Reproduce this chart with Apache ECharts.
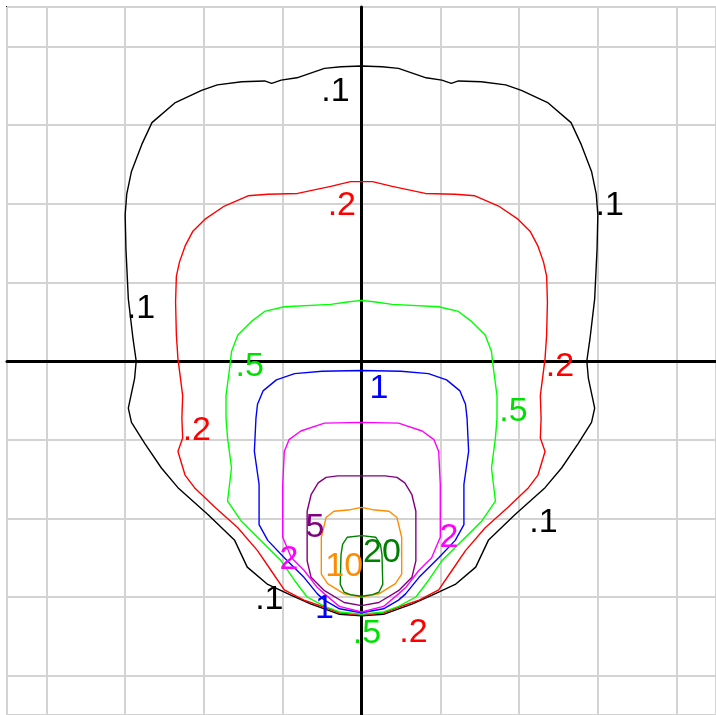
<!DOCTYPE html>
<html>
<head>
<meta charset="utf-8">
<script src="https://cdn.jsdelivr.net/npm/echarts@6/dist/echarts.min.js"></script>
<style>html,body{margin:0;padding:0;background:#fff}#c{width:716px;height:715px}</style>
</head>
<body>
<div id="c"></div>
<script>
// Contour levels (right halves, the plot is symmetric about x = 0)
const levels = ['.1', '.2', '.5', '1', '2', '5', '10', '20'];
const colors = ['#000000', '#ff0000', '#00ff00', '#0000ff', '#ff00ff', '#800080', '#ff8c00', '#008000'];
const labelColors = ['#000000', '#ff0000', '#00e000', '#0000ff', '#ff00ff', '#800080', '#ff8c00', '#008000'];

const c01 = [[0,3.75],[0.26,3.74],[0.47,3.72],[0.82,3.60],[1.02,3.57],[1.14,3.53],[1.23,3.56],[1.52,3.55],[1.83,3.51],[2.03,3.44],[2.37,3.28],[2.66,3.03],[2.79,2.75],[2.92,2.41],[2.98,2.12],[3.00,1.86],[2.99,1.42],[2.96,0.79],[2.90,0.28],[2.86,0.0],[2.88,-0.22],[2.96,-0.60],[2.92,-0.78],[2.75,-1.05],[2.54,-1.36],[2.33,-1.61],[1.95,-1.95],[1.61,-2.28],[1.45,-2.62],[1.19,-2.84],[0.89,-2.98],[0.64,-3.09],[0.47,-3.15],[0.28,-3.22],[0,-3.24]];
const c02 = [[0,2.28],[0.14,2.28],[0.39,2.22],[0.81,2.13],[1.19,2.12],[1.44,2.10],[1.74,1.97],[1.99,1.80],[2.14,1.65],[2.24,1.46],[2.31,1.26],[2.35,1.08],[2.36,0.75],[2.35,0.33],[2.33,0.03],[2.27,-0.44],[2.28,-0.73],[2.27,-0.98],[2.33,-1.15],[2.24,-1.45],[2.12,-1.61],[1.86,-1.86],[1.57,-2.12],[1.32,-2.41],[1.15,-2.66],[0.98,-2.91],[0.73,-3.04],[0.47,-3.13],[0.28,-3.20],[0,-3.23]];
const c05 = [[0,0.77],[0.18,0.75],[0.39,0.72],[0.98,0.69],[1.23,0.63],[1.40,0.50],[1.57,0.33],[1.65,0.12],[1.67,-0.06],[1.72,-0.44],[1.72,-0.73],[1.70,-0.98],[1.65,-1.36],[1.70,-1.78],[1.53,-2.03],[1.32,-2.24],[1.02,-2.54],[0.85,-2.79],[0.69,-3.00],[0.47,-3.12],[0.28,-3.19],[0,-3.22]];
const c1 = [[0,-0.12],[0.5,-0.13],[0.85,-0.16],[1.08,-0.24],[1.25,-0.38],[1.32,-0.55],[1.34,-0.73],[1.36,-1.15],[1.30,-1.57],[1.30,-2.08],[1.19,-2.28],[0.98,-2.50],[0.73,-2.75],[0.56,-2.96],[0.47,-3.04],[0.28,-3.15],[0,-3.20]];
const c2 = [[0,-0.78],[0.47,-0.79],[0.77,-0.89],[0.92,-1.00],[0.98,-1.15],[1.00,-1.57],[1.00,-2.24],[0.89,-2.50],[0.73,-2.66],[0.56,-2.88],[0.47,-2.96],[0.28,-3.12],[0,-3.19]];
const c5 = [[0,-1.46],[0.30,-1.46],[0.45,-1.48],[0.55,-1.55],[0.64,-1.70],[0.69,-1.91],[0.69,-2.54],[0.64,-2.75],[0.47,-2.92],[0.22,-3.07],[0,-3.11]];
const c10 = [[0,-1.86],[0.14,-1.89],[0.35,-1.91],[0.45,-1.99],[0.51,-2.24],[0.51,-2.71],[0.43,-2.83],[0.22,-2.96],[0,-3.00]];
const c20 = [[0,-2.22],[0.18,-2.24],[0.24,-2.33],[0.26,-2.46],[0.27,-2.84],[0.22,-2.94],[0.14,-2.97],[0,-2.99]];
const contours = [c01, c02, c05, c1, c2, c5, c10, c20];

// Contour labels: [x, y, text, levelIndex]
const labels = [
  [-0.33, 3.42, '.1', 0], [3.15, 1.97, '.1', 0], [-2.80, 0.66, '.1', 0], [2.31, -2.05, '.1', 0], [-1.17, -3.03, '.1', 0],
  [-0.25, 1.97, '.2', 1], [2.52, -0.07, '.2', 1], [-2.09, -0.89, '.2', 1], [0.66, -3.45, '.2', 1],
  [-1.42, -0.07, '.5', 2], [1.93, -0.64, '.5', 2], [0.07, -3.47, '.5', 2],
  [0.22, -0.35, '1', 3], [-0.47, -3.15, '1', 3],
  [-0.92, -2.52, '2', 4], [1.11, -2.24, '2', 4],
  [-0.59, -2.12, '5', 5],
  [-0.22, -2.62, '10', 6],
  [0.26, -2.43, '20', 7]
];

function closed(half) {
  const left = half.slice().reverse().map(p => [-p[0], p[1]]);
  return left.concat(half.slice(1));
}

const series = contours.map((h, i) => ({
  type: 'line', name: levels[i], data: closed(h), showSymbol: false, symbol: 'none',
  lineStyle: { color: colors[i], width: 1.4 }, silent: true, z: 3
}));
series.push({
  type: 'scatter', symbol: 'circle', symbolSize: 2,
  itemStyle: { color: 'rgba(0,0,0,0)', opacity: 1 }, z: 5, silent: true,
  data: labels.map(l => ({
    value: [l[0], l[1]], name: l[2],
    label: { color: labelColors[l[3]], fontSize: 34, fontFamily: 'Liberation Sans, Arial, sans-serif' }
  })),
  label: {
    show: true, position: 'inside', fontFamily: 'Liberation Sans, Arial, sans-serif', fontSize: 34,
    textBorderWidth: 0, formatter: p => p.name
  }
});

const chart = echarts.init(document.getElementById('c'), null, { renderer: 'canvas' });
chart.setOption({
  animation: false,
  backgroundColor: '#ffffff',
  grid: { left: 7, top: 7, width: 711, height: 711, show: true, borderColor: '#111', borderWidth: 2, backgroundColor: 'transparent' },
  xAxis: {
    type: 'value', min: -4.5, max: 4.5, splitNumber: 9, minInterval: 1, maxInterval: 1,
    axisLine: { onZero: true, lineStyle: { color: '#000', width: 3 } },
    axisTick: { show: false }, axisLabel: { show: false },
    splitLine: { show: true, lineStyle: { color: '#d3d3d3', width: 2 } }
  },
  yAxis: {
    type: 'value', min: -4.5, max: 4.5, splitNumber: 9, minInterval: 1, maxInterval: 1,
    axisLine: { onZero: true, lineStyle: { color: '#000', width: 3 } },
    axisTick: { show: false }, axisLabel: { show: false },
    splitLine: { show: true, lineStyle: { color: '#d3d3d3', width: 2 } }
  },
  series: series
});
</script>
</body>
</html>
